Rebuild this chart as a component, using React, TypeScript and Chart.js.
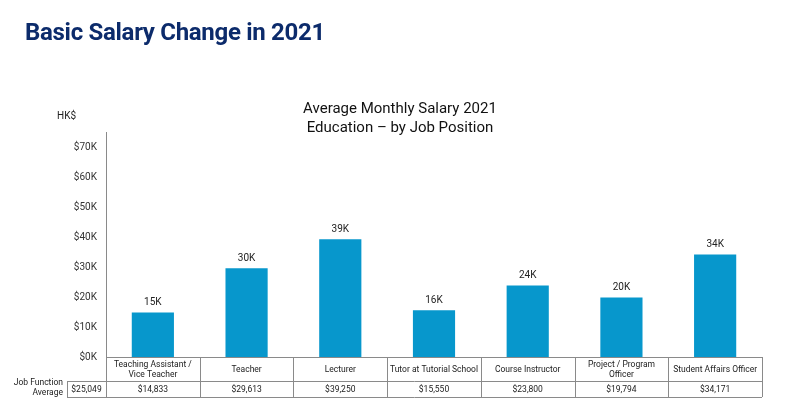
import React, { useEffect, useRef } from "react";
import { Chart, registerables } from "chart.js";

Chart.register(...registerables);

const categories: string[][] = [
  ["Teaching Assistant /", "Vice Teacher"],
  ["Teacher"],
  ["Lecturer"],
  ["Tutor at Tutorial School"],
  ["Course Instructor"],
  ["Project / Program", "Officer"],
  ["Student Affairs Officer"],
];
const salaries: number[] = [14833, 29613, 39250, 15550, 23800, 19794, 34171];
const barLabels: string[] = ["15K", "30K", "39K", "16K", "24K", "20K", "34K"];
const averageLabels: string[] = ["$14,833", "$29,613", "$39,250", "$15,550", "$23,800", "$19,794", "$34,171"];
const overallAverage = "$25,049";
const yTicks: number[] = [0, 10000, 20000, 30000, 40000, 50000, 60000, 70000];

const FONT = "Roboto, 'Noto Sans', Arial, sans-serif";
const BORDER = "#8a8a8a";

const tablePlugin = {
  id: "salaryTable",
  afterDatasetsDraw(chart: any) {
    const { ctx, chartArea, scales } = chart;
    const x = scales.x;
    const meta = chart.getDatasetMeta(0);
    ctx.save();
    // bar value labels
    ctx.font = `10px ${FONT}`;
    ctx.fillStyle = "#222";
    ctx.textAlign = "center";
    ctx.textBaseline = "bottom";
    meta.data.forEach((bar: any, i: number) => {
      ctx.fillText(barLabels[i], bar.x, bar.y - 5);
    });
    // HK$ label
    ctx.textAlign = "left";
    ctx.textBaseline = "middle";
    ctx.fillText("HK$", 57, 116);

    // table
    const n = categories.length;
    const cw = (chartArea.right - chartArea.left) / n;
    const top = chartArea.bottom;
    const mid = top + 24;
    const bot = top + 40;
    const leftCell = 67;
    ctx.strokeStyle = BORDER;
    ctx.lineWidth = 1;
    ctx.beginPath();
    ctx.moveTo(chartArea.left, top + 0.5);
    ctx.lineTo(chartArea.right, top + 0.5);
    ctx.moveTo(leftCell, mid + 0.5);
    ctx.lineTo(chartArea.right, mid + 0.5);
    ctx.moveTo(leftCell, bot + 0.5);
    ctx.lineTo(chartArea.right, bot + 0.5);
    ctx.moveTo(leftCell + 0.5, mid);
    ctx.lineTo(leftCell + 0.5, bot);
    for (let i = 0; i <= n; i++) {
      const px = Math.round(chartArea.left + i * cw) + 0.5;
      ctx.moveTo(px, top);
      ctx.lineTo(px, bot);
    }
    ctx.stroke();

    ctx.font = `8.5px ${FONT}`;
    ctx.fillStyle = "#222";
    ctx.textAlign = "center";
    ctx.textBaseline = "middle";
    categories.forEach((lines, i) => {
      const cx = x.getPixelForValue(i);
      const cy = top + 12.5;
      const lh = 10;
      lines.forEach((ln, k) => {
        ctx.fillText(ln, cx, cy + (k - (lines.length - 1) / 2) * lh);
      });
      ctx.fillText(averageLabels[i], cx, (mid + bot) / 2 + 0.5);
    });
    ctx.fillText(overallAverage, (leftCell + chartArea.left) / 2, (mid + bot) / 2 + 0.5);
    ctx.textAlign = "right";
    ctx.fillText("Job Function", 63, mid + 2);
    ctx.fillText("Average", 63, mid + 12);
    ctx.restore();
  },
};

export default function App() {
  const ref = useRef<HTMLCanvasElement>(null);
  useEffect(() => {
    if (!ref.current) return;
    const chart = new Chart(ref.current, {
      type: "bar",
      data: {
        labels: categories.map((c) => c.join(" ")),
        datasets: [
          {
            data: salaries,
            backgroundColor: "#0797cc",
            categoryPercentage: 1,
            barPercentage: 0.45,
          },
        ],
      },
      options: {
        responsive: false,
        animation: false,
        devicePixelRatio: 1,
        layout: { padding: { top: 132, left: 0, right: 34, bottom: 52 } },
        plugins: {
          legend: { display: false },
          tooltip: { enabled: false },
          title: { display: false },
        },
        scales: {
          x: {
            display: true,
            grid: { display: false },
            border: { display: false },
            ticks: { display: false },
            afterFit: (s: any) => {
              s.height = 0;
            },
          },
          y: {
            min: 0,
            max: 75000,
            afterBuildTicks: (s: any) => {
              s.ticks = yTicks.map((v) => ({ value: v }));
            },
            afterFit: (s: any) => {
              s.width = 106;
            },
            grid: { display: false, drawTicks: false },
            border: { display: true, color: BORDER, width: 1 },
            ticks: {
              padding: 9,
              color: "#333",
              font: { family: FONT, size: 10 },
              callback: (v: any) => "$" + Number(v) / 1000 + "K",
            },
          },
        },
      },
      plugins: [tablePlugin],
    });
    return () => chart.destroy();
  }, []);
  return (
    <div style={{ position: "fixed", left: 0, top: 0, width: 796, height: 409, background: "#fff" }}>
      <canvas ref={ref} width={796} height={409} style={{ display: "block" }} />
      <div
        style={{
          position: "absolute",
          left: 25,
          top: 18,
          fontFamily: FONT,
          fontWeight: 700,
          fontSize: 24,
          lineHeight: "normal",
          color: "#0c2b6b",
          letterSpacing: -0.3,
          whiteSpace: "nowrap",
        }}
      >
        Basic Salary Change in 2021
      </div>
      <div
        style={{
          position: "absolute",
          left: 300,
          width: 200,
          top: 99,
          fontFamily: FONT,
          fontSize: 15,
          lineHeight: "19px",
          color: "#111",
          textAlign: "center",
          whiteSpace: "nowrap",
        }}
      >
        <div>Average Monthly Salary 2021</div>
        <div>Education {"\u2013"} by Job Position</div>
      </div>
    </div>
  );
}
